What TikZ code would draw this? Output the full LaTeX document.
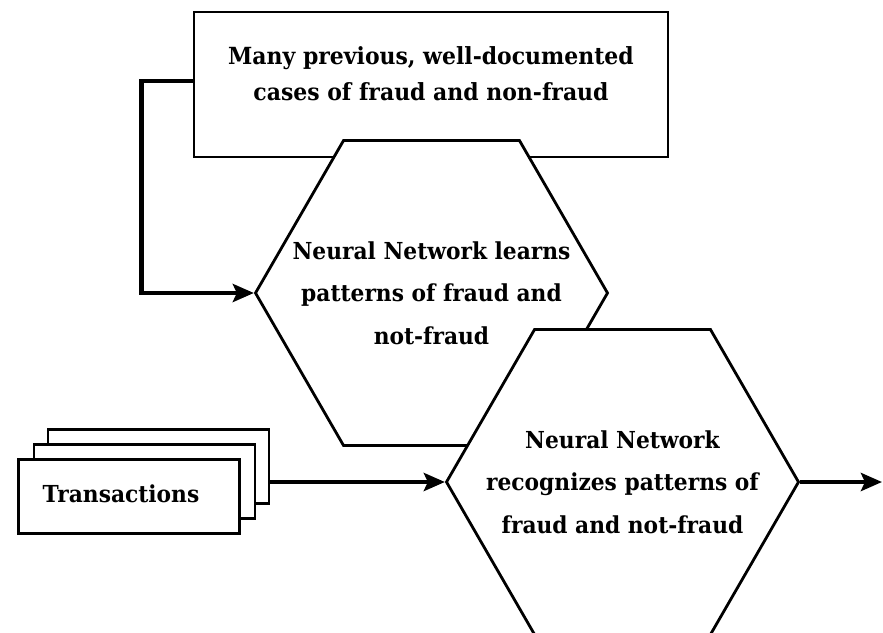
\documentclass[tikz,border=0pt]{standalone}
\usepackage{fontspec}
\setmainfont{DejaVu Serif}[BoldFeatures={FakeStretch=0.93}]
\usetikzlibrary{shapes.geometric,arrows.meta}
\begin{document}
\begin{tikzpicture}[x=1pt,y=-1pt,
  frame/.style={draw=black,line width=2.8pt,fill=white,inner sep=0pt},
  hexa/.style={frame,regular polygon,regular polygon sides=6,
    minimum size=352pt},
  sheet/.style={frame,minimum width=221pt,minimum height=74pt},
  caption/.style={align=center,inner sep=0pt,
    font=\fontsize{23.4}{42.5}\selectfont\bfseries},
  flow/.style={line width=4.4pt,
    -{Stealth[length=21pt,width=18pt,inset=4pt]}}]
\useasboundingbox (0,0) rectangle (883,632);
\clip (0,0) rectangle (883,632);

% training data box
\node[frame,minimum width=474pt,minimum height=145pt] (cases) at (431,84.5) {};
\node[caption,font=\fontsize{23.6}{36}\selectfont\bfseries] (casestext) at (431,74)
  {Many previous, well-documented\\cases of fraud and non-fraud};

% learning stage
\node[hexa] (learn) at (431.5,293) {};
\node[caption] (learntext) at (learn.center)
  {Neural Network learns\\patterns of fraud and\\not-fraud};

% recognition stage
\node[hexa] (recog) at (622.5,482) {};
\node[caption] (recogtext) at (recog.center)
  {Neural Network\\recognizes patterns of\\fraud and not-fraud};

% stack of transaction sheets
\node[sheet] (back) at (158.5,466.5) {};
\node[sheet] (middle) at (144.5,481.5) {};
\node[sheet] (front) at (129,496.5) {};
\node[caption] (fronttext) at (121,494) {Transactions};

% connectors
\coordinate (out) at (882,482);
\draw[flow] ([yshift=3.5pt]cases.west) -- ++(-51,0) |- (learn.west);
\draw[flow] (back.east |- recog.west) -- (recog.west);
\draw[flow] (recog.east) -- (out);
\end{tikzpicture}
\end{document}
